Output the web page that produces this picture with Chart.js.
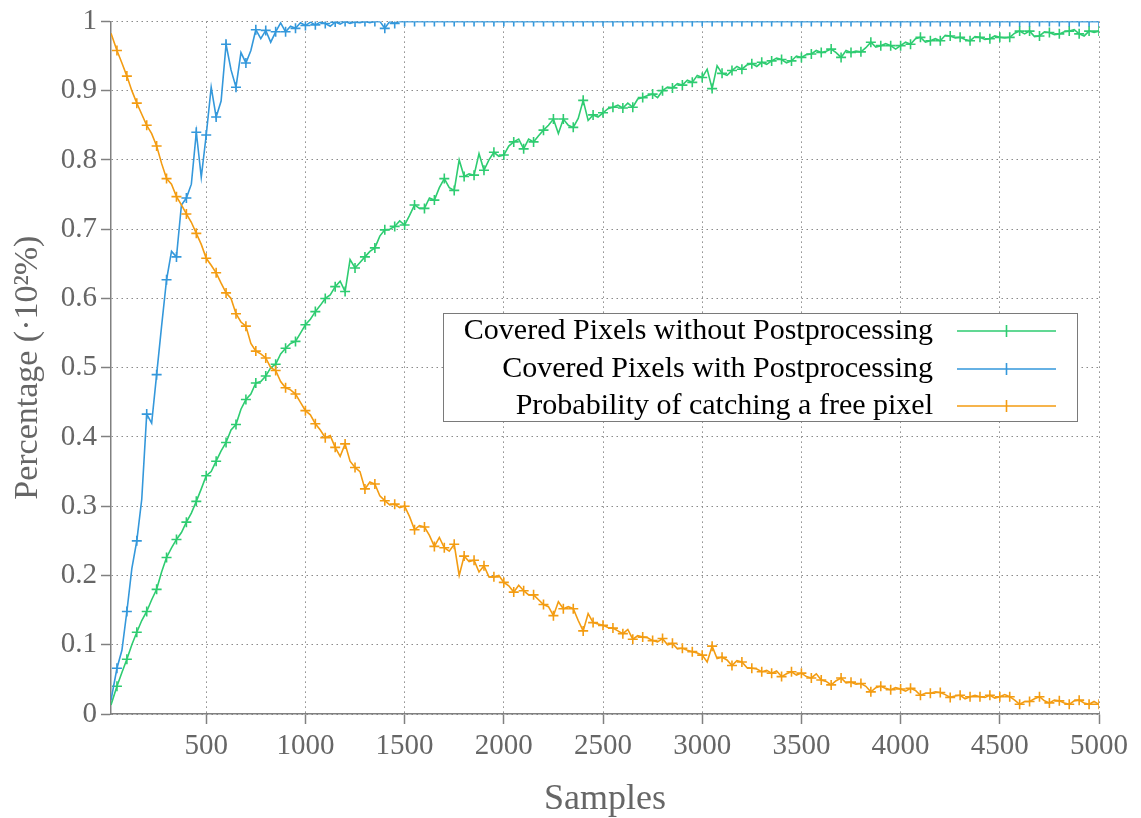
<!DOCTYPE html>
<html>
<head>
<meta charset="utf-8">
<script src="https://cdn.jsdelivr.net/npm/chart.js@4/dist/chart.umd.min.js"></script>
<style>
  html, body { margin: 0; padding: 0; background: #fff; }
  #wrap { width: 1141px; height: 818px; position: relative; }
</style>
</head>
<body>
<div id="wrap"><canvas id="c" width="1141" height="818"></canvas></div>
<script>
// Number of samples drawn so far
const samples = [20,
  50, 75, 100, 125, 150, 175, 200, 225, 250, 275,
  300, 325, 350, 375, 400, 425, 450, 475, 500, 525,
  550, 575, 600, 625, 650, 675, 700, 725, 750, 775,
  800, 825, 850, 875, 900, 925, 950, 975, 1000, 1025,
  1050, 1075, 1100, 1125, 1150, 1175, 1200, 1225, 1250, 1275,
  1300, 1325, 1350, 1375, 1400, 1425, 1450, 1475, 1500, 1525,
  1550, 1575, 1600, 1625, 1650, 1675, 1700, 1725, 1750, 1775,
  1800, 1825, 1850, 1875, 1900, 1925, 1950, 1975, 2000, 2025,
  2050, 2075, 2100, 2125, 2150, 2175, 2200, 2225, 2250, 2275,
  2300, 2325, 2350, 2375, 2400, 2425, 2450, 2475, 2500, 2525,
  2550, 2575, 2600, 2625, 2650, 2675, 2700, 2725, 2750, 2775,
  2800, 2825, 2850, 2875, 2900, 2925, 2950, 2975, 3000, 3025,
  3050, 3075, 3100, 3125, 3150, 3175, 3200, 3225, 3250, 3275,
  3300, 3325, 3350, 3375, 3400, 3425, 3450, 3475, 3500, 3525,
  3550, 3575, 3600, 3625, 3650, 3675, 3700, 3725, 3750, 3775,
  3800, 3825, 3850, 3875, 3900, 3925, 3950, 3975, 4000, 4025,
  4050, 4075, 4100, 4125, 4150, 4175, 4200, 4225, 4250, 4275,
  4300, 4325, 4350, 4375, 4400, 4425, 4450, 4475, 4500, 4525,
  4550, 4575, 4600, 4625, 4650, 4675, 4700, 4725, 4750, 4775,
  4800, 4825, 4850, 4875, 4900, 4925, 4950, 4975, 5000];

// Covered pixels without postprocessing
const coveredPlain = [0.013,
  0.04, 0.06, 0.079, 0.1, 0.118, 0.135, 0.148, 0.165, 0.18, 0.205,
  0.226, 0.24, 0.252, 0.262, 0.277, 0.29, 0.307, 0.325, 0.344, 0.35,
  0.365, 0.38, 0.392, 0.41, 0.418, 0.44, 0.454, 0.462, 0.478, 0.48,
  0.488, 0.5, 0.505, 0.52, 0.528, 0.535, 0.538, 0.55, 0.562, 0.57,
  0.581, 0.59, 0.6, 0.605, 0.617, 0.625, 0.61, 0.656, 0.644, 0.652,
  0.66, 0.668, 0.673, 0.69, 0.699, 0.7, 0.704, 0.712, 0.706, 0.72,
  0.735, 0.73, 0.73, 0.745, 0.742, 0.76, 0.773, 0.76, 0.756, 0.8,
  0.776, 0.78, 0.778, 0.809, 0.785, 0.8, 0.811, 0.805, 0.807, 0.82,
  0.826, 0.83, 0.816, 0.83, 0.826, 0.835, 0.843, 0.85, 0.859, 0.838,
  0.859, 0.85, 0.847, 0.86, 0.886, 0.857, 0.865, 0.862, 0.868, 0.874,
  0.876, 0.879, 0.875, 0.882, 0.876, 0.888, 0.89, 0.893, 0.895, 0.89,
  0.9, 0.905, 0.904, 0.91, 0.908, 0.915, 0.912, 0.922, 0.919, 0.931,
  0.903, 0.936, 0.925, 0.922, 0.929, 0.935, 0.931, 0.937, 0.939, 0.935,
  0.941, 0.938, 0.943, 0.947, 0.945, 0.94, 0.943, 0.95, 0.948, 0.952,
  0.953, 0.958, 0.955, 0.957, 0.96, 0.955, 0.948, 0.958, 0.955, 0.957,
  0.956, 0.962, 0.97, 0.963, 0.965, 0.968, 0.965, 0.96, 0.965, 0.97,
  0.967, 0.975, 0.977, 0.97, 0.972, 0.975, 0.972, 0.98, 0.979, 0.976,
  0.977, 0.974, 0.972, 0.978, 0.977, 0.974, 0.975, 0.979, 0.977, 0.976,
  0.977, 0.983, 0.986, 0.982, 0.986, 0.978, 0.979, 0.985, 0.984, 0.981,
  0.982, 0.985, 0.986, 0.988, 0.982, 0.979, 0.986, 0.984, 0.986];

// Covered pixels with postprocessing
const coveredPost = [0.02,
  0.066, 0.092, 0.148, 0.21, 0.25, 0.31, 0.433, 0.42, 0.49, 0.56,
  0.627, 0.668, 0.66, 0.735, 0.745, 0.765, 0.84, 0.775, 0.836, 0.905,
  0.862, 0.885, 0.967, 0.93, 0.905, 0.955, 0.94, 0.958, 0.988, 0.975,
  0.987, 0.97, 0.985, 0.998, 0.985, 0.993, 0.99, 0.998, 0.994, 0.999,
  0.995, 0.999, 0.997, 0.993, 0.999, 0.996, 1, 0.997, 0.999, 0.998,
  1, 0.998, 1, 1, 0.99, 1, 0.997, 1, 1, 1,
  1, 1, 1, 1, 1, 1, 1, 1, 1, 1,
  1, 1, 1, 1, 1, 1, 1, 1, 1, 1,
  1, 1, 1, 1, 1, 1, 1, 1, 1, 1,
  1, 1, 1, 1, 1, 1, 1, 1, 1, 1,
  1, 1, 1, 1, 1, 1, 1, 1, 1, 1,
  1, 1, 1, 1, 1, 1, 1, 1, 1, 1,
  1, 1, 1, 1, 1, 1, 1, 1, 1, 1,
  1, 1, 1, 1, 1, 1, 1, 1, 1, 1,
  1, 1, 1, 1, 1, 1, 1, 1, 1, 1,
  1, 1, 1, 1, 1, 1, 1, 1, 1, 1,
  1, 1, 1, 1, 1, 1, 1, 1, 1, 1,
  1, 1, 1, 1, 1, 1, 1, 1, 1, 1,
  1, 1, 1, 1, 1, 1, 1, 1, 1, 1,
  1, 1, 1, 1, 1, 1, 1, 1, 1];

// Probability of catching a free pixel
const freeProb = [0.983,
  0.958, 0.94, 0.921, 0.9, 0.882, 0.866, 0.85, 0.838, 0.82, 0.795,
  0.773, 0.765, 0.747, 0.735, 0.722, 0.71, 0.694, 0.678, 0.658, 0.648,
  0.637, 0.622, 0.608, 0.6, 0.578, 0.566, 0.56, 0.535, 0.524, 0.52,
  0.514, 0.5, 0.496, 0.48, 0.471, 0.468, 0.462, 0.45, 0.438, 0.432,
  0.419, 0.41, 0.399, 0.402, 0.385, 0.372, 0.39, 0.365, 0.356, 0.35,
  0.325, 0.335, 0.332, 0.315, 0.308, 0.302, 0.303, 0.298, 0.3, 0.285,
  0.266, 0.272, 0.27, 0.258, 0.242, 0.255, 0.24, 0.235, 0.245, 0.2,
  0.228, 0.22, 0.222, 0.205, 0.214, 0.198, 0.198, 0.2, 0.19, 0.185,
  0.176, 0.186, 0.178, 0.172, 0.172, 0.165, 0.158, 0.155, 0.142, 0.162,
  0.152, 0.155, 0.152, 0.135, 0.12, 0.145, 0.132, 0.13, 0.128, 0.125,
  0.124, 0.12, 0.116, 0.122, 0.108, 0.113, 0.111, 0.11, 0.106, 0.104,
  0.109, 0.1, 0.102, 0.094, 0.095, 0.092, 0.09, 0.088, 0.085, 0.075,
  0.098, 0.08, 0.082, 0.078, 0.07, 0.077, 0.075, 0.067, 0.066, 0.065,
  0.061, 0.063, 0.059, 0.062, 0.054, 0.058, 0.061, 0.056, 0.059, 0.054,
  0.052, 0.058, 0.049, 0.047, 0.042, 0.048, 0.052, 0.045, 0.046, 0.043,
  0.044, 0.04, 0.032, 0.038, 0.04, 0.037, 0.035, 0.038, 0.036, 0.033,
  0.037, 0.034, 0.027, 0.03, 0.03, 0.032, 0.031, 0.028, 0.024, 0.026,
  0.027, 0.022, 0.025, 0.027, 0.025, 0.024, 0.027, 0.023, 0.025, 0.028,
  0.025, 0.02, 0.014, 0.018, 0.018, 0.022, 0.025, 0.019, 0.016, 0.02,
  0.019, 0.016, 0.014, 0.019, 0.02, 0.016, 0.014, 0.018, 0.014];

const seriesNames = [
  'Covered Pixels without Postprocessing',
  'Covered Pixels with Postprocessing',
  'Probability of catching a free pixel'
];
const seriesColors = ['#2ecc71', '#3498db', '#f39c12'];

const xTicks = [500, 1000, 1500, 2000, 2500, 3000, 3500, 4000, 4500, 5000];
const yTicks = [0, 0.1, 0.2, 0.3, 0.4, 0.5, 0.6, 0.7, 0.8, 0.9, 1];

const SERIF = '"Liberation Serif", "Times New Roman", serif';
const AXIS_GREY = '#808080';
const TEXT_GREY = '#666666';

function toPoints(values) {
  return values.map((v, i) => ({ x: samples[i], y: v }));
}

// a "+" marker on every second sample (every 50 samples)
const markerRadius = ctx => (samples[ctx.dataIndex] % 50 === 0 ? 5 : 0);

function lineSet(idx, values, order) {
  return {
    label: seriesNames[idx],
    data: toPoints(values),
    borderColor: seriesColors[idx],
    backgroundColor: seriesColors[idx],
    borderWidth: 1.6,
    pointStyle: 'cross',
    pointRadius: markerRadius,
    pointBorderWidth: 1.6,
    pointBorderColor: seriesColors[idx],
    tension: 0,
    order: order
  };
}

// key box drawn inside the plot, text right-aligned before each line sample
const keyBox = {
  id: 'keyBox',
  afterDraw(chart) {
    const ctx = chart.ctx;
    const box = { x: 443.5, y: 313.5, w: 634, h: 108 };
    ctx.save();
    ctx.fillStyle = '#ffffff';
    ctx.fillRect(box.x, box.y, box.w, box.h);
    ctx.strokeStyle = '#7a7a7a';
    ctx.lineWidth = 1;
    ctx.strokeRect(box.x, box.y, box.w, box.h);
    ctx.font = '30px ' + SERIF;
    ctx.textAlign = 'right';
    ctx.textBaseline = 'middle';
    const rows = [331, 369, 406];
    chart.data.datasets.forEach((ds, i) => {
      const y = rows[i];
      ctx.fillStyle = '#000000';
      ctx.fillText(ds.label, 933, y);
      ctx.strokeStyle = ds.borderColor;
      ctx.lineWidth = 1.6;
      ctx.beginPath();
      ctx.moveTo(957, y); ctx.lineTo(1056, y);
      ctx.moveTo(1006.5, y - 6); ctx.lineTo(1006.5, y + 6);
      ctx.stroke();
    });
    ctx.restore();
  }
};

new Chart(document.getElementById('c'), {
  type: 'line',
  data: {
    datasets: [
      lineSet(0, coveredPlain, 2),
      lineSet(1, coveredPost, 1),
      lineSet(2, freeProb, 0)
    ]
  },
  options: {
    responsive: false,
    animation: false,
    events: [],
    layout: { padding: { top: 19, right: 42, left: 0, bottom: 0 } },
    plugins: {
      legend: { display: false },
      tooltip: { enabled: false }
    },
    scales: {
      x: {
        type: 'linear',
        min: 20,
        max: 5000,
        afterFit(scale) { scale.height = 104; },
        afterBuildTicks(scale) { scale.ticks = xTicks.map(v => ({ value: v })); },
        ticks: {
          color: TEXT_GREY,
          font: { family: SERIF, size: 29 },
          padding: 5,
          maxRotation: 0,
          autoSkip: false,
          callback: v => String(v)
        },
        grid: {
          color: '#8a8a8a',
          lineWidth: 1,
          tickLength: 10,
          tickColor: AXIS_GREY,
          tickWidth: 1.5
        },
        border: { display: true, color: AXIS_GREY, width: 1.5, dash: [1.5, 3.5] },
        title: {
          display: true,
          text: 'Samples',
          color: TEXT_GREY,
          font: { family: SERIF, size: 36, lineHeight: 1.0 },
          padding: { top: 0, bottom: 0 }
        }
      },
      y: {
        type: 'linear',
        min: 0,
        max: 1,
        afterFit(scale) { scale.width = 111; },
        afterBuildTicks(scale) { scale.ticks = yTicks.map(v => ({ value: v })); },
        ticks: {
          color: TEXT_GREY,
          font: { family: SERIF, size: 29 },
          padding: 4,
          autoSkip: false,
          callback: v => String(Math.round(v * 10) / 10)
        },
        grid: {
          color: '#8a8a8a',
          lineWidth: 1,
          tickLength: 10,
          tickColor: AXIS_GREY,
          tickWidth: 1.5
        },
        border: { display: true, color: AXIS_GREY, width: 1.5, dash: [1.5, 3.5] },
        title: {
          display: true,
          text: 'Percentage (\u00b710\u00b2%)',
          color: TEXT_GREY,
          font: { family: SERIF, size: 34 },
          padding: { top: 8, bottom: 0 }
        }
      }
    }
  },
  plugins: [keyBox]
});
</script>
</body>
</html>
